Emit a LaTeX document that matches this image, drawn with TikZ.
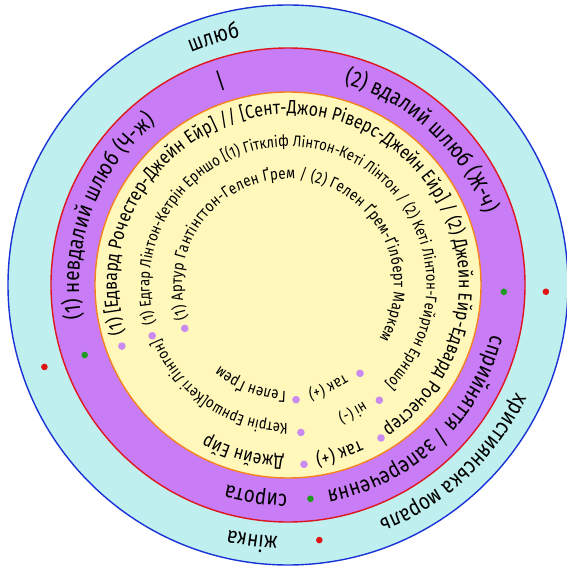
\documentclass[tikz,border=0pt]{standalone}
\usepackage{fontspec}
\setmainfont{Fira Sans}
\newfontfamily\ringfont[FakeStretch=0.84]{Fira Sans}
\usetikzlibrary{decorations.text}

\definecolor{ringCyan}{HTML}{BFEFEE}
\definecolor{ringPurple}{HTML}{C87CF5}
\definecolor{ringYellow}{HTML}{FFF8BA}
\definecolor{lineBlue}{HTML}{1A33D6}
\definecolor{lineRed}{HTML}{E0161E}
\definecolor{lineOrange}{HTML}{F5821F}
\definecolor{dotGreen}{HTML}{1F9A22}
\definecolor{dotRed}{HTML}{E01414}
\definecolor{dotPurple}{HTML}{C98BF2}

\newcommand{\bandfont}{\ringfont\fontsize{22.5}{22.5}\selectfont}
\newcommand{\firstfont}{\ringfont\fontsize{19}{19}\selectfont}
\newcommand{\secondfont}{\ringfont\fontsize{15.6}{15.6}\selectfont}
\newcommand{\thirdfont}{\ringfont\fontsize{16}{16}\selectfont}

\tikzset{
  arclabel/.style={decorate, decoration={text along path, text align=center, text={#1}}},
  arcfit/.style={decorate, decoration={text along path, text align={fit to path}, text={#1}}},
}

\begin{document}
\begin{tikzpicture}[x=1pt, y=1pt]
  \useasboundingbox (-288,-285) rectangle (278,285);

  % three discs
  \draw[lineBlue, line width=1.4pt, fill=ringCyan] (0,0) circle[radius=280];
  \draw[lineRed, line width=1.4pt, fill=ringPurple] (0,0) circle[radius=237];
  \draw[lineOrange, line width=1.4pt, fill=ringYellow] (0,0) circle[radius=193];

  % outer band
  \path[arclabel={|\bandfont|шлюб}] (136.8:252) arc[start angle=136.8, end angle=76.8, radius=252];
  \path[arclabel={|\bandfont|християнська мораль}] (-2:252) arc[start angle=-2, end angle=-92, radius=252];
  \path[arclabel={|\bandfont|жінка}] (287:252) arc[start angle=287, end angle=237, radius=252];
  \fill[dotRed] (198.6:257) circle[radius=3.3];
  \fill[dotRed] (-1.5:258) circle[radius=3.3];
  \fill[dotRed] (-83:257) circle[radius=3.3];

  % middle band
  \path[arclabel={|\bandfont|(1) невдалий шлюб (Ч-ж)}] (204.2:209) arc[start angle=204.2, end angle=114.2, radius=209];
  \node[font=\bandfont, rotate=18.4] (divider) at (108.4:215) {\textbar};
  \path[arclabel={|\bandfont|(2) вдалий шлюб (Ж-ч)}] (92.2:209) arc[start angle=92.2, end angle=2.2, radius=209];
  \path[arclabel={|\bandfont|сприйняття / заперечення}] (-1.5:209) arc[start angle=-1.5, end angle=-91.5, radius=209];
  \path[arclabel={|\bandfont|сирота}] (286.4:209) arc[start angle=286.4, end angle=236.4, radius=209];
  \fill[dotGreen] (199:215) circle[radius=3.3];
  \fill[dotGreen] (-1.8:216) circle[radius=3.3];
  \fill[dotGreen] (-84:215) circle[radius=3.3];

  % inner disc, first row
  \path[arcfit={|\firstfont|(1) [Едвард Рочестер-Джейн Ейр] // [Сент-Джон Ріверс-Джейн Ейр] / (2) Джейн Ейр-Едвард Рочестер}] (196.5:171) arc[start angle=196.5, end angle=-55, radius=171];
  \path[arclabel={|\firstfont|так (+)}] (-56:171) arc[start angle=-56, end angle=-90, radius=171];
  \path[arclabel={|\firstfont|Джейн Ейр}] (285:171) arc[start angle=285, end angle=225, radius=171];
  \fill[dotPurple] (200.2:177) circle[radius=3.8];
  \fill[dotPurple] (-58.7:179) circle[radius=3.8];
  \fill[dotPurple] (-84.9:180) circle[radius=3.8];

  % second row
  \path[arcfit={|\secondfont|(1) Едгар Лінтон-Кетрін Ерншо [(1) Гіткліф Лінтон-Кеті Лінтон / (2) Кеті Лінтон-Гейртон Ерншо]}] (196.3:138.5) arc[start angle=196.3, end angle=-45.5, radius=138.5];
  \path[arclabel={|\secondfont|ні (-)}] (-46:138.5) arc[start angle=-46, end angle=-80, radius=138.5];
  \path[arclabel={|\secondfont|Кетрін Ерншо[Кеті Лінтон]}] (286.5:138.5) arc[start angle=286.5, end angle=186.5, radius=138.5];
  \fill[dotPurple] (200.5:145) circle[radius=3.8];
  \fill[dotPurple] (-51.6:147) circle[radius=3.8];
  \fill[dotPurple] (-85:148) circle[radius=3.8];

  % third row
  \path[arcfit={|\thirdfont|(1) Артур Гантінгтон-Гелен Ґрем / (2) Гелен Ґрем-Ґілберт Маркем}] (198.5:106) arc[start angle=198.5, end angle=-30.5, radius=106];
  \path[arclabel={|\thirdfont|так (+)}] (-46.5:106) arc[start angle=-46.5, end angle=-90.5, radius=106];
  \path[arclabel={|\thirdfont|Гелен Ґрем}] (284.5:106) arc[start angle=284.5, end angle=214.5, radius=106];
  \fill[dotPurple] (202.8:112) circle[radius=3.8];
  \fill[dotPurple] (-50.8:114) circle[radius=3.8];
  \fill[dotPurple] (-86:115) circle[radius=3.8];
\end{tikzpicture}
\end{document}
